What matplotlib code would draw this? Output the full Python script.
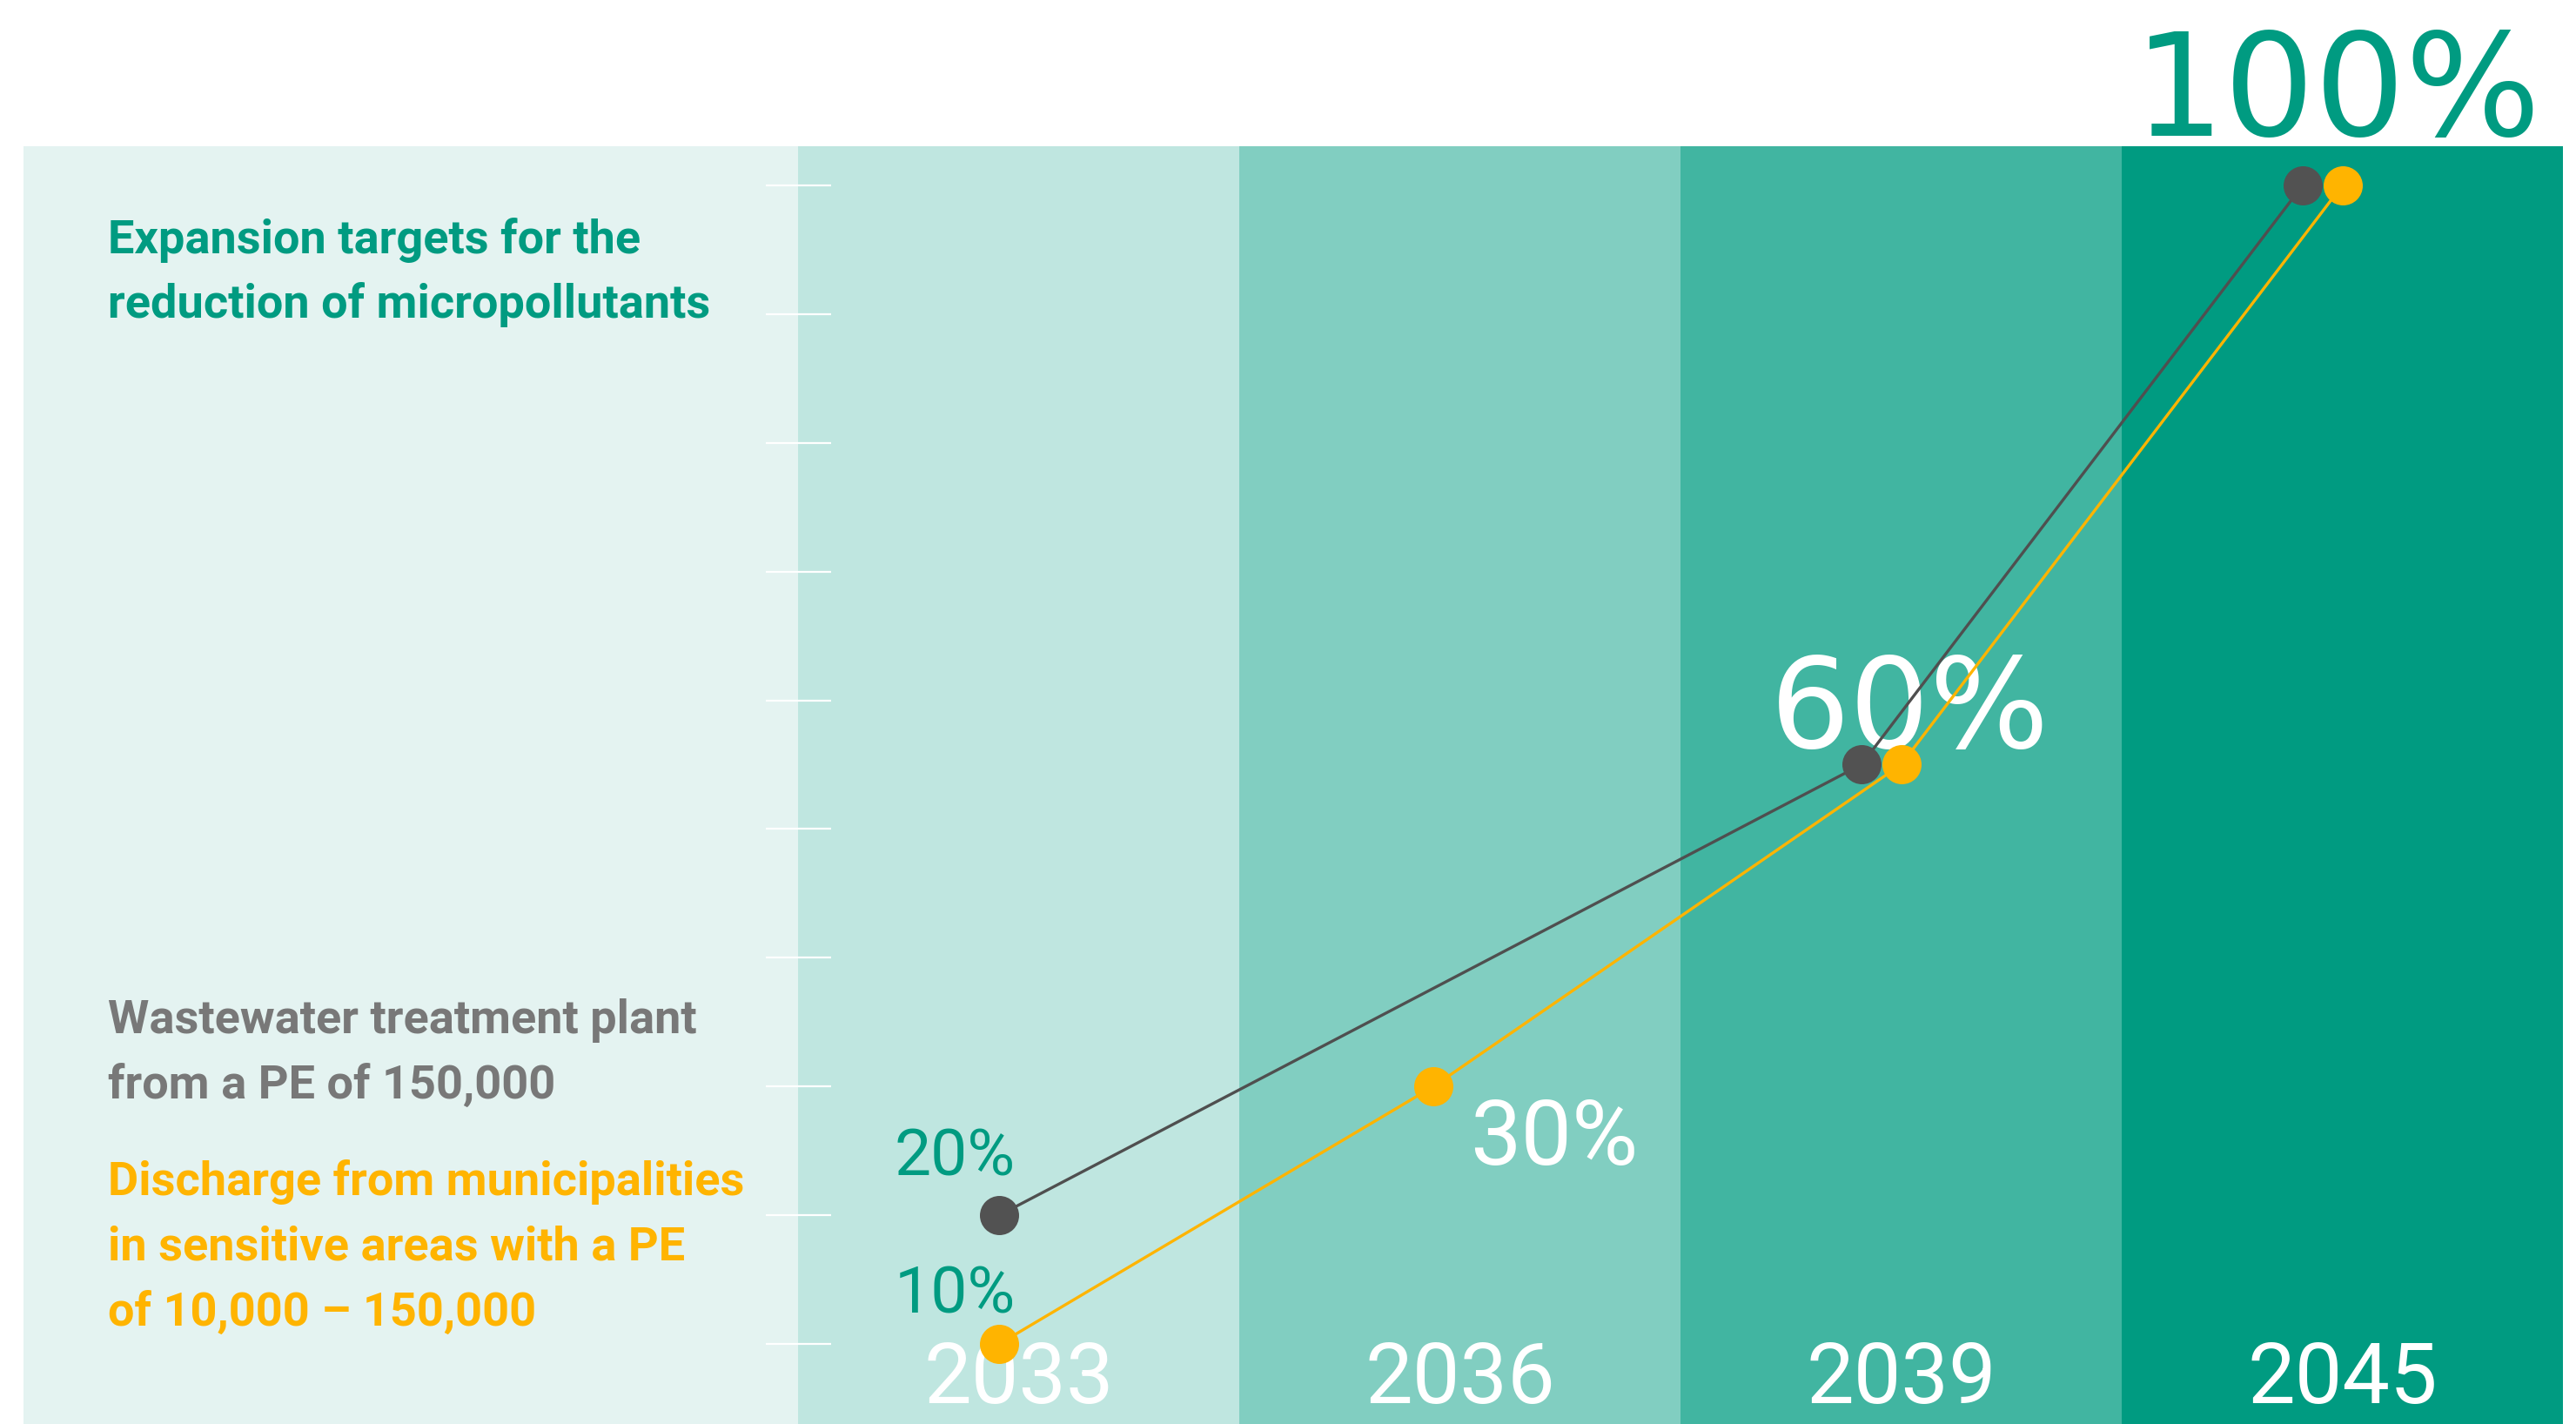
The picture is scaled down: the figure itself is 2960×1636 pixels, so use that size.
import matplotlib
matplotlib.use("Agg")
import matplotlib.pyplot as plt
from matplotlib import font_manager as fm
from matplotlib.patches import Rectangle

# -------------------------
# DATA
# -------------------------
years = ["2033", "2036", "2039", "2045"]

# wastewater treatment plants from 150,000 PE (no 2036 step)
plant_years = ["2033", "2039", "2045"]
plant_values = [20, 55, 100]

# discharge from municipalities in sensitive areas, 10,000 - 150,000 PE
discharge_years = ["2033", "2036", "2039", "2045"]
discharge_values = [10, 30, 55, 100]

# percentage labels written next to the dots
label_series = ["plant", "discharge", "discharge", "discharge", "discharge"]
label_years = ["2033", "2033", "2036", "2039", "2045"]
label_texts = ["20%", "10%", "30%", "60%", "100%"]

tick_values = [10, 20, 30, 40, 50, 60, 70, 80, 90, 100]

title_lines = ["Expansion targets for the", "reduction of micropollutants"]
plant_lines = ["Wastewater treatment plant", "from a PE of 150,000"]
discharge_lines = ["Discharge from municipalities", "in sensitive areas with a PE",
                   "of 10,000 – 150,000"]

# -------------------------
# STYLE
# -------------------------
W, H = 2960, 1636
TEAL = "#009B81"
GREY_TXT = "#787878"
GREY_DOT = "#525252"
YELLOW = "#FFB400"
PANEL = "#E4F3F1"
band_colors = ["#BFE6E0", "#81CEC1", "#41B5A1", "#009B81"]


def pick_sans():
    names = {f.name for f in fm.fontManager.ttflist}
    for name in ["Roboto", "Lato", "Liberation Sans"]:
        if name in names:
            return dict(family=name)
    return dict(family="DejaVu Sans")


SANS = pick_sans()
WIDE = dict(family="DejaVu Sans")

fig = plt.figure(figsize=(W / 100, H / 100), dpi=100, facecolor="white")

# light panel on the left
fig.add_artist(Rectangle((27 / W, 0), (917 - 27) / W, (H - 168) / H,
                         transform=fig.transFigure, color=PANEL, lw=0, zorder=-5))

ax = fig.add_axes([917 / W, 0, (2945 - 917) / W, (H - 168) / H])
ax.set_facecolor("none")
for s in ax.spines.values():
    s.set_visible(False)
ax.set_xlim(-0.5, 3.5)
ax.set_ylim(3.78, 103.04)

for i, c in enumerate(band_colors):
    ax.axvspan(i - 0.5, i + 0.5, color=c, lw=0, zorder=0)

ax.set_yticks(tick_values)
ax.tick_params(axis="y", direction="inout", length=54, width=1.6, colors="white",
               labelleft=False)
ax.set_xticks([])

# positions: category index plus a small sideways nudge so dots sit next to each other
idx = {y: i for i, y in enumerate(years)}
plant_nudge = [-0.044, -0.09, -0.09]
discharge_nudge = [-0.044, -0.06, 0.0, 0.0]
px = [idx[y] + d for y, d in zip(plant_years, plant_nudge)]
dx = [idx[y] + d for y, d in zip(discharge_years, discharge_nudge)]

ax.plot(px, plant_values, color="#4F4F4F", lw=2.4, zorder=3)
ax.plot(dx, discharge_values, color=YELLOW, lw=2.4, zorder=3)
ax.plot(px, plant_values, "o", ms=32.4, color=GREY_DOT, mew=0, zorder=4)
ax.plot(dx, discharge_values, "o", ms=32.4, color=YELLOW, mew=0, zorder=5)

# value labels
pts = {"plant": dict(zip(plant_years, zip(px, plant_values))),
       "discharge": dict(zip(discharge_years, zip(dx, discharge_values)))}
label_style = [
    ((-51, 46), SANS, 54, TEAL),
    ((-51, 36), SANS, 54, TEAL),
    ((139, -90), SANS, 75, "white"),
    ((10, 19), WIDE, 104, "white"),
    ((-5, 57), WIDE, 118, TEAL),
]
for s, y, t, (off, font, size, col) in zip(label_series, label_years, label_texts, label_style):
    ax.annotate(t, xy=pts[s][y], xytext=off, textcoords="offset pixels",
                ha="center", va="baseline", fontsize=size, color=col,
                annotation_clip=False, zorder=2, **font)

# year labels at the bottom of each band
for i, y in enumerate(years):
    ax.text(i, 24 / (H - 168), y, transform=ax.get_xaxis_transform(),
            ha="center", va="baseline", fontsize=70, color="white", zorder=2, **SANS)

# legend-like text in the left panel
step = 74.5
for lines, col, base in [(title_lines, TEAL, 291), (plant_lines, GREY_TXT, 1187),
                         (discharge_lines, YELLOW, 1373.5)]:
    for k, line in enumerate(lines):
        fig.text(124 / W, 1 - (base + k * step) / H, line, ha="left", va="baseline",
                 fontsize=39, fontweight="bold", color=col, **SANS)

fig.savefig("out.png", dpi=100, facecolor="white")
